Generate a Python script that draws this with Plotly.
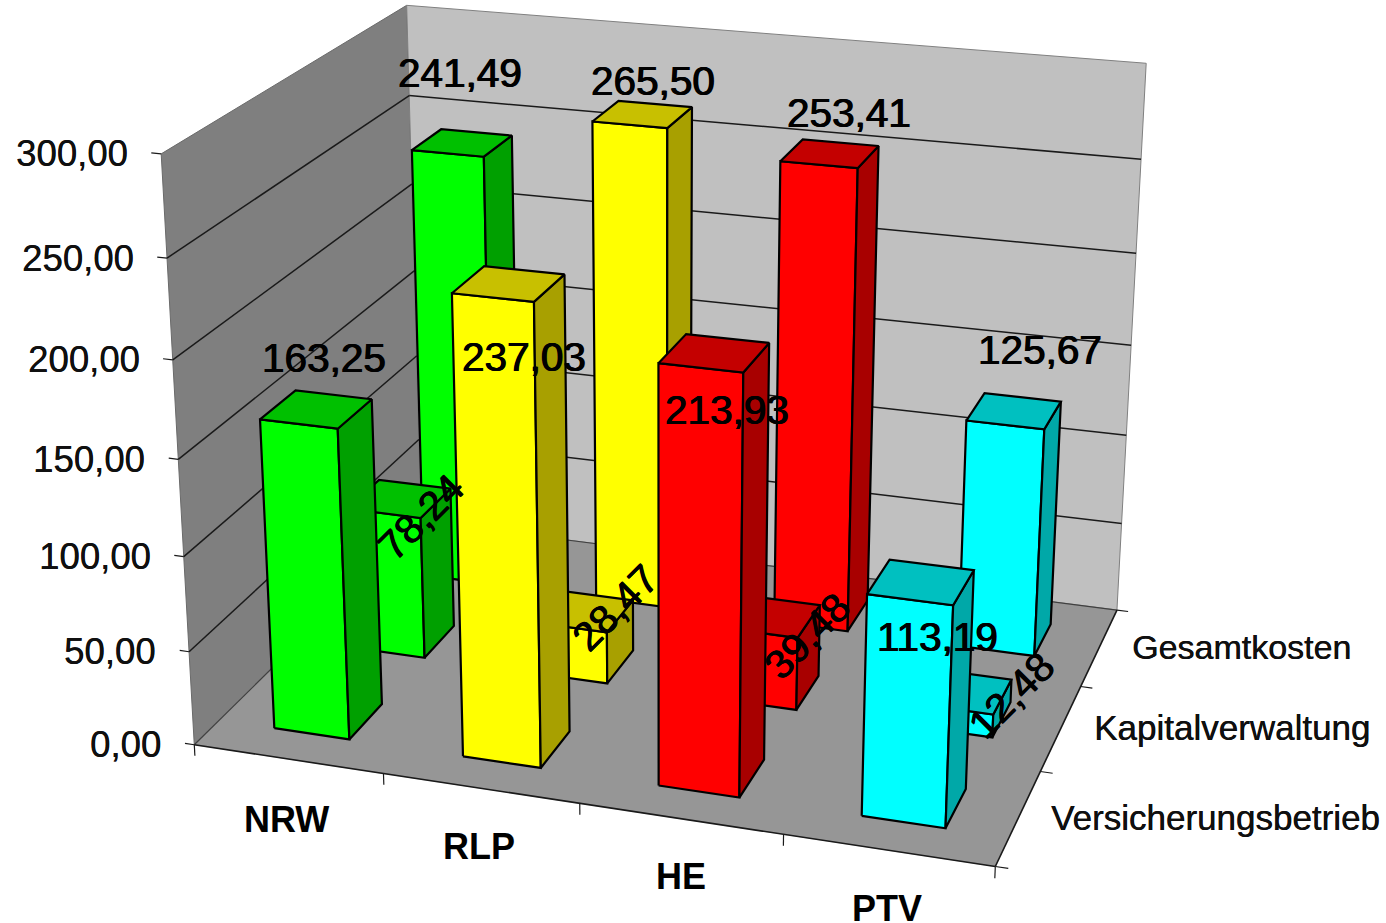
import numpy as np
import plotly.graph_objects as go

regions = ["NRW", "RLP", "HE", "PTV"]
cost_types = ["Versicherungsbetrieb", "Kapitalverwaltung", "Gesamtkosten"]
versicherungsbetrieb = [163.25, 237.03, 213.93, 113.19]
kapitalverwaltung = [78.24, 28.47, 39.48, 12.48]
gesamtkosten = [241.49, 265.50, 253.41, 125.67]
series = [versicherungsbetrieb, kapitalverwaltung, gesamtkosten]
z_ticks = [0, 50, 100, 150, 200, 250, 300]

front_colors = ["#00FF00", "#FFFF00", "#FF0000", "#00FFFF"]
side_colors = ["#00A000", "#A8A000", "#A80000", "#00A8A8"]
top_colors = ["#00C000", "#C8C000", "#C40000", "#00C0C0"]

W, H = 1386, 923
BAR_X = (0.298, 0.70)
BAR_Y = (0.29, 0.71)

# Chart-box reference points (category, series, value) and where they sit on the page;
# the perspective camera is solved from these.
BOX_WORLD = np.array([
    [0, 0, 0], [4, 0, 0], [4, 3, 0], [0, 0, 300], [0, 3, 300], [4, 3, 300],
    [0, 0, 250], [0, 3, 250], [0, 0, 50], [4, 3, 250], [4, 3, 200],
    [1, 0, 0], [2, 0, 0], [3, 0, 0], [4, 1, 0], [4, 2, 0]], float)
BOX_PAGE = np.array([
    [194.3, 745], [995.7, 865], [1116.7, 610], [160.7, 154], [406.7, 5], [1146.7, 63.3],
    [167.3, 258.3], [409.3, 95.7], [190, 650.7], [1140.7, 159.3], [1135.7, 253.3],
    [382.3, 773.7], [580, 804], [783, 835], [1040.7, 771.7], [1081, 686.7]], float)

# Pixel offsets of the value labels from the top centre of their bars, one row per series
value_label_shift = [
    [(7, 51), (15, -73), (13, -57), (16, -55)],
    [(21, -18), (32, 3), (37, -20), (49, -4)],
    [(-2, 70), (10, 33), (19, 41), (26, 61)],
]
region_label_shift = [(-2, -61), (-2, -58), (0, -58), (-1, -58)]
cost_type_sizes = [35, 35, 34]


def solve_camera(world, page):
    scale = np.array([4.0, 3.0, 300.0])
    shift_p, scale_p = page.mean(axis=0), page.std()
    w = world / scale
    q = (page - shift_p) / scale_p
    rows = []
    for (X, Y, Z), (u, v) in zip(w, q):
        rows.append([X, Y, Z, 1, 0, 0, 0, 0, -u * X, -u * Y, -u * Z, -u])
        rows.append([0, 0, 0, 0, X, Y, Z, 1, -v * X, -v * Y, -v * Z, -v])
    M = np.linalg.svd(np.array(rows))[2][-1].reshape(3, 4)
    T = np.array([[scale_p, 0, shift_p[0]], [0, scale_p, shift_p[1]], [0, 0, 1]])
    return T @ M @ np.diag([1 / scale[0], 1 / scale[1], 1 / scale[2], 1])


CAMERA = solve_camera(BOX_WORLD, BOX_PAGE)


def project(x, y, z):
    h = CAMERA @ np.array([x, y, z, 1.0])
    return h[0] / h[2], h[1] / h[2]


fig = go.Figure()


def polygon(corners, fill, line_color="black", line_width=2.2):
    pts = [project(*c) for c in corners]
    pts.append(pts[0])
    fig.add_trace(go.Scatter(x=[p[0] for p in pts], y=[p[1] for p in pts], mode="lines", fill="toself",
                             fillcolor=fill, line=dict(color=line_color, width=line_width), hoverinfo="skip"))


def segment(a, b, color, width):
    pa, pb = project(*a), project(*b)
    fig.add_trace(go.Scatter(x=[pa[0], pb[0]], y=[pa[1], pb[1]], mode="lines",
                             line=dict(color=color, width=width), hoverinfo="skip"))


# Walls and floor
polygon([(0, 0, 0), (0, 3, 0), (0, 3, 300), (0, 0, 300)], "#7F7F7F", "#6A6A6A", 1)
polygon([(0, 3, 0), (4, 3, 0), (4, 3, 300), (0, 3, 300)], "#C0C0C0", "#808080", 1)
polygon([(0, 0, 0), (4, 0, 0), (4, 3, 0), (0, 3, 0)], "#969696", "#969696", 0.5)

for v in z_ticks[:-1]:
    color, width = ("#404040", 1.2) if v == 0 else ("#1A1A1A", 1.5)
    segment((0, 0, v), (0, 3, v), color, width)
    segment((0, 3, v), (4, 3, v), color, width)
for v in z_ticks:
    segment((0, 0, v), (-0.05, 0, v), "#1A1A1A", 1.2)
segment((0, 0, 0), (4, 0, 0), "#1A1A1A", 1.6)
segment((4, 0, 0), (4, 3, 0), "#1A1A1A", 1.6)
for i in range(5):
    segment((i, 0, 0), (i, 0, -6), "#1A1A1A", 1.2)
for j in range(4):
    segment((4, j, 0), (4.06, j, 0), "#1A1A1A", 1.2)

# Bars, back row first so nearer ones cover them
for j in (2, 1, 0):
    for i, v in enumerate(series[j]):
        x0, x1, y0, y1 = i + BAR_X[0], i + BAR_X[1], j + BAR_Y[0], j + BAR_Y[1]
        polygon([(x0, y0, 0), (x1, y0, 0), (x1, y0, v), (x0, y0, v)], front_colors[i])
        polygon([(x1, y0, 0), (x1, y1, 0), (x1, y1, v), (x1, y0, v)], side_colors[i])
        polygon([(x0, y0, v), (x1, y0, v), (x1, y1, v), (x0, y1, v)], top_colors[i])

HEAVY = "0.6px 0 0 #000, -0.5px 0 0 #000"
anns = []
for j, row in enumerate(series):
    for i, v in enumerate(row):
        px, py = project(i + 0.5, j + 0.5, v)
        dx, dy = value_label_shift[j][i]
        anns.append(dict(x=px, y=py, text=f"{v:.2f}".replace(".", ","), showarrow=False,
                         xshift=dx, yshift=dy, textangle=-45 if j == 1 else 0,
                         font=dict(family="Liberation Sans", size=40.5, color="black", shadow=HEAVY)))
for v in z_ticks:
    px, py = project(0, 0, v)
    anns.append(dict(x=px, y=py, text=f"{v:.2f}".replace(".", ","), showarrow=False, xanchor="right",
                     xshift=-31, font=dict(family="Liberation Sans", size=36.6, color="#101010",
                                           shadow="0.3px 0 0 #000")))
for i, name in enumerate(regions):
    px, py = project(i + 0.5, 0, 0)
    dx, dy = region_label_shift[i]
    anns.append(dict(x=px, y=py, text=name, showarrow=False, xshift=dx, yshift=dy,
                     font=dict(family="Liberation Sans", size=36, color="black", weight="bold")))
for j, name in enumerate(cost_types):
    px, py = project(4, j + 0.5, 0)
    anns.append(dict(x=px, y=py, text=name, showarrow=False, xanchor="left", xshift=31,
                     font=dict(family="Liberation Sans", size=cost_type_sizes[j], color="#101010",
                               shadow="0.4px 0 0 #000")))

fig.update_layout(
    width=W, height=H, margin=dict(l=0, r=0, t=0, b=0), paper_bgcolor="white", plot_bgcolor="white",
    showlegend=False, hovermode=False, annotations=anns,
    xaxis=dict(range=[0, W], visible=False, fixedrange=True),
    yaxis=dict(range=[H, 0], visible=False, fixedrange=True))
fig.write_html("out.html", config=dict(displayModeBar=False))
